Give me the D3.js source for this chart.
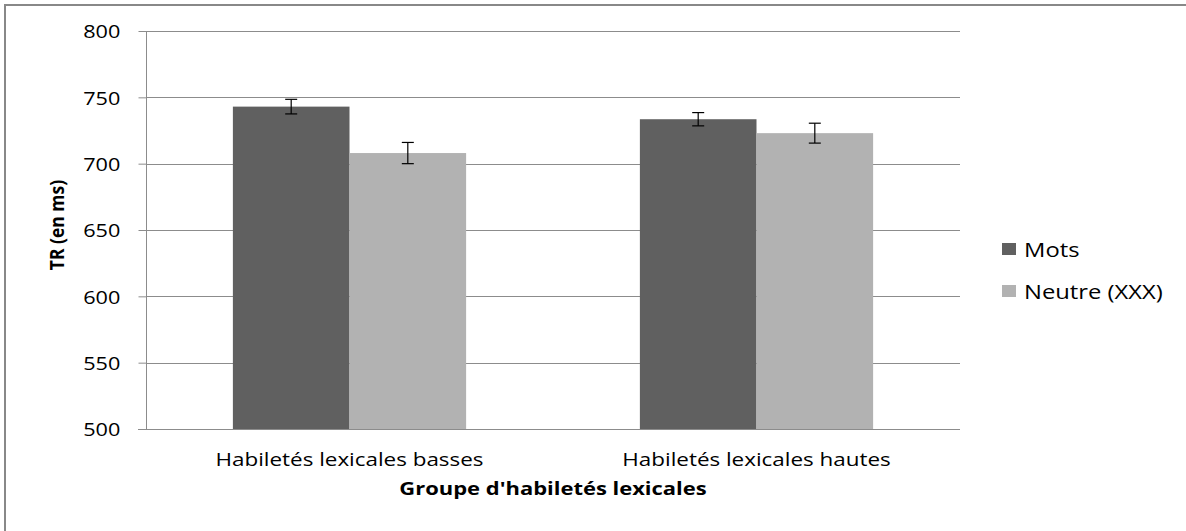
<!DOCTYPE html>
<html><head><meta charset="utf-8">
<script src="https://cdn.jsdelivr.net/npm/d3@7"></script>
<style>body{margin:0;background:#fff;}svg{display:block;font-family:"Open Sans",sans-serif;}</style>
</head><body>
<svg id="c" width="1186" height="531"></svg>
<script>
const categories = ["Habiletés lexicales basses", "Habiletés lexicales hautes"];
const seriesNames = ["Mots", "Neutre (XXX)"];
const mots = [743, 733.5];
const neutre = [708, 723];
const motsErr = [5.5, 5];
const neutreErr = [8, 7.5];
const yTicks = [500, 550, 600, 650, 700, 750, 800];
const colors = ["#606060", "#b2b2b2"];

const svg = d3.select("#c");
svg.append("rect").attr("x",5).attr("y",5).attr("width",1190).attr("height",540)
  .attr("fill","#fff").attr("stroke","#888").attr("stroke-width",2);

const L=146,R=960,T=31,B=429;
const SX = 1.14;
const y = d3.scaleLinear().domain([500,800]).range([B,T]);
const x0 = d3.scaleBand().domain(categories).range([L,R]).paddingInner(0).paddingOuter(0);
const x1 = d3.scaleBand().domain(seriesNames).range([0,x0.bandwidth()]).paddingOuter(0.745).paddingInner(0);

// gridlines
svg.append("g").selectAll("line").data(yTicks.filter(t=>t>500)).join("line")
  .attr("x1",L).attr("x2",R).attr("y1",d=>Math.round(y(d))+0.5).attr("y2",d=>Math.round(y(d))+0.5)
  .attr("stroke","#8c8c8c").attr("stroke-width",1);

const data = categories.map((c,i)=>({c, vals:[{s:seriesNames[0],v:mots[i],e:motsErr[i]},{s:seriesNames[1],v:neutre[i],e:neutreErr[i]}]}));
const g = svg.append("g").selectAll("g").data(data).join("g").attr("transform",d=>`translate(${x0(d.c)},0)`);
g.selectAll("rect").data(d=>d.vals).join("rect")
  .attr("x",d=>x1(d.s)).attr("width",x1.bandwidth())
  .attr("y",d=>y(d.v)).attr("height",d=>B-y(d.v))
  .attr("fill",(d,i)=>colors[i]);
const eb = g.selectAll("g.eb").data(d=>d.vals).join("g").attr("class","eb");
eb.append("line").attr("x1",d=>x1(d.s)+x1.bandwidth()/2).attr("x2",d=>x1(d.s)+x1.bandwidth()/2)
  .attr("y1",d=>y(d.v+d.e)).attr("y2",d=>y(d.v-d.e)).attr("stroke","#000").attr("stroke-width",1.2);
[1,-1].forEach(sg=>{
  eb.append("line").attr("x1",d=>x1(d.s)+x1.bandwidth()/2-6).attr("x2",d=>x1(d.s)+x1.bandwidth()/2+6)
    .attr("y1",d=>y(d.v+sg*d.e)).attr("y2",d=>y(d.v+sg*d.e)).attr("stroke","#000").attr("stroke-width",1.2);
});

// y axis
const ya = svg.append("g").attr("transform",`translate(${L+0.5},0)`)
  .call(d3.axisLeft(y).tickValues(yTicks).tickSize(8).tickPadding(15));
ya.select(".domain").attr("stroke","#8c8c8c").attr("d",`M0,${T}V${B}`);
ya.selectAll(".tick line").attr("stroke","#8c8c8c");
ya.selectAll("text").attr("font-size","19px").attr("fill","#000").attr("font-family","Open Sans")
  .attr("dy","0.36em").attr("transform",`scale(${SX},1)`);

// x axis baseline
svg.append("line").attr("x1",L-8).attr("x2",R).attr("y1",B+0.5).attr("y2",B+0.5).attr("stroke","#8c8c8c");
svg.append("g").selectAll("text").data(categories).join("text")
  .attr("transform",d=>`translate(${x0(d)+x0.bandwidth()/2},466) scale(1.18,1)`).attr("text-anchor","middle")
  .attr("font-size","19px").text(d=>d);

svg.append("text").attr("transform","translate(553,495) scale(1.22,1)").attr("text-anchor","middle")
  .attr("font-size","18px").attr("font-weight","bold").text("Groupe d'habiletés lexicales");
svg.append("text").attr("transform","translate(64,225) rotate(-90) scale(1,1.15)").attr("text-anchor","middle")
  .attr("font-size","17.5px").attr("font-weight","bold").text("TR (en ms)");

// legend
const lg = svg.append("g").selectAll("g").data(seriesNames).join("g")
  .attr("transform",(d,i)=>`translate(1002,${249+i*42})`);
lg.append("rect").attr("width",14).attr("height",12).attr("y",-6).attr("fill",(d,i)=>colors[i]);
lg.append("text").attr("transform",`translate(22,8) scale(1.22,1)`).attr("font-size","19.5px").text(d=>d);
</script>
</body></html>
